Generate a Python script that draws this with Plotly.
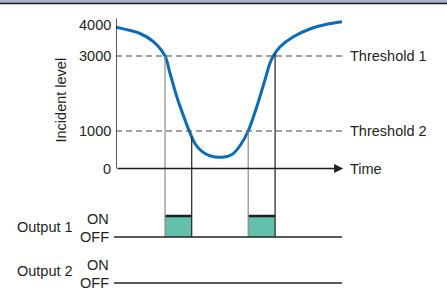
import numpy as np
import plotly.graph_objects as go

# ---- data ----
time = [0.0, 1.06, 1.64, 2.17, 2.39, 2.69, 3.05, 3.24, 3.50, 3.80, 4.15, 4.68, 5.15,
        5.50, 5.85, 6.23, 6.59, 6.81, 6.96, 7.26, 7.85, 8.58, 9.32, 10.0]
level = [3765, 3600, 3390, 3000, 2540, 1915, 1300, 1000, 660, 455, 340, 299, 380,
         620, 1000, 1648, 2360, 2805, 3000, 3248, 3515, 3720, 3845, 3915]
tick_vals = [0, 1000, 3000, 4000]
tick_text = ["0", "1000", "3000", "4000"]
thresholds = [3000, 1000]
threshold_labels = ["Threshold 1", "Threshold 2"]
switch_times = [2.17, 3.35, 5.85, 7.04]      # output 1 turns ON at 1st, OFF at 2nd, etc.
output1_on = [(2.17, 3.35), (5.85, 7.04)]
output2_on = []

# ---- layout constants ----
W, H = 447, 291
ML = 116
T_END = 10.0
PX_PER_T = 22.6
PX_PER_V = 37.5 / 1000
Y0PX = 168.5
def v_of(py):
    return (Y0PX - py) / PX_PER_V
x_range = [0, (W - ML) / PX_PER_T]
y_range = [v_of(H), v_of(0)]
out1_off, out1_on_v = v_of(237), v_of(216)
out2_off, out2_on_v = v_of(283), v_of(262)
def xp(px):
    return (px - ML) / (W - ML)

FONT = "Liberation Sans, Arial, sans-serif"
TXT = "#231f20"
fs = 14.5

fig = go.Figure()
shapes = []
ann = []

# header band
shapes.append(dict(type="rect", xref="paper", yref="paper", x0=xp(0), x1=1,
                   y0=1 - 3 / H, y1=1, fillcolor="#a9b4c8", line_width=0, layer="above"))
shapes.append(dict(type="line", xref="paper", yref="paper", x0=xp(0), x1=1,
                   y0=1 - 3.5 / H, y1=1 - 3.5 / H, line=dict(color="#1a1a1a", width=1.3)))

# teal bars
for a, b in output1_on:
    shapes.append(dict(type="rect", xref="x", yref="y", x0=a, x1=b, y0=out1_off, y1=out1_on_v,
                       fillcolor="#63c1ab", line_width=0, layer="below"))
    shapes.append(dict(type="line", xref="x", yref="y", x0=a, x1=b, y0=out1_on_v, y1=out1_on_v,
                       line=dict(color="#231f20", width=2.5)))
for a, b in output2_on:
    shapes.append(dict(type="rect", xref="x", yref="y", x0=a, x1=b, y0=out2_off, y1=out2_on_v,
                       fillcolor="#63c1ab", line_width=0, layer="below"))

# threshold dashed lines
for th, lab in zip(thresholds, threshold_labels):
    shapes.append(dict(type="line", xref="x", yref="y", x0=0, x1=T_END, y0=th, y1=th,
                       line=dict(color="#444444", width=1.2, dash="6px,4px")))
    ann.append(dict(x=T_END + 6 / PX_PER_T, y=th, xref="x", yref="y", text=lab, showarrow=False,
                    xanchor="left", yanchor="middle", font=dict(family=FONT, size=fs, color=TXT)))

# vertical switching markers
colors = ["#8a8a8a", "#231f20", "#8a8a8a", "#231f20"]
for t, c in zip(switch_times, colors):
    top = float(np.interp(t, time, level))
    shapes.append(dict(type="line", xref="x", yref="y", x0=t, x1=t, y0=top, y1=out1_off,
                       line=dict(color=c, width=1.2)))

# output baselines
for off in (out1_off, out2_off):
    shapes.append(dict(type="line", xref="paper", yref="y", x0=xp(114), x1=xp(342), y0=off, y1=off,
                       line=dict(color="#231f20", width=1.5)))

# axes
shapes.append(dict(type="line", xref="x", yref="y", x0=0, x1=0, y0=0, y1=4000,
                   line=dict(color="#231f20", width=1.5)))
ann.append(dict(x=T_END + 0.05, y=0, ax=0, ay=0, xref="x", yref="y", axref="x", ayref="y",
                text="", showarrow=True, arrowhead=2, arrowsize=1.2, arrowwidth=1.5,
                arrowcolor="#231f20", standoff=0))
ann.append(dict(x=T_END + 6 / PX_PER_T, y=0, xref="x", yref="y", text="Time", showarrow=False,
                xanchor="left", yanchor="middle", font=dict(family=FONT, size=fs, color=TXT)))

# y tick labels
for tv, tt in zip(tick_vals, tick_text):
    ann.append(dict(x=xp(113), y=tv, xref="paper", yref="y", text=tt, showarrow=False,
                    xanchor="right", yanchor="middle", yshift=(-6 if tv == 4000 else 0),
                    font=dict(family=FONT, size=fs, color=TXT)))

# curve
fig.add_trace(go.Scatter(x=time, y=level, mode="lines",
                         line=dict(color="#0a6cb9", width=3, shape="spline", smoothing=0.8),
                         hoverinfo="skip", showlegend=False, cliponaxis=False))

# labels
ann.append(dict(x=xp(60), y=v_of(100.5), xref="paper", yref="y", text="Incident level",
                textangle=-90, showarrow=False, xanchor="center", yanchor="middle",
                font=dict(family=FONT, size=fs, color=TXT)))
for name, yc, on_v, off_v in (("Output 1", v_of(227), out1_on_v, out1_off),
                              ("Output 2", v_of(271), out2_on_v, out2_off)):
    ann.append(dict(x=xp(45), y=yc, xref="paper", yref="y", text=name, showarrow=False,
                    xanchor="center", yanchor="middle", font=dict(family=FONT, size=fs, color=TXT)))
    ann.append(dict(x=xp(111), y=on_v - 3 / PX_PER_V, xref="paper", yref="y", text="ON",
                    showarrow=False, xanchor="right", yanchor="middle",
                    font=dict(family=FONT, size=fs, color=TXT)))
    ann.append(dict(x=xp(111), y=off_v, xref="paper", yref="y", text="OFF",
                    showarrow=False, xanchor="right", yanchor="middle",
                    font=dict(family=FONT, size=fs, color=TXT)))

fig.update_layout(
    width=W, height=H, autosize=False,
    margin=dict(l=ML, r=0, t=0, b=0, pad=0),
    paper_bgcolor="white", plot_bgcolor="white",
    shapes=shapes, annotations=ann,
    xaxis=dict(range=x_range, visible=False, fixedrange=True, automargin=False),
    yaxis=dict(range=y_range, visible=False, showgrid=False, zeroline=False,
               fixedrange=True, automargin=False),
)
fig.write_html("out.html", config={"displayModeBar": False},
               post_script="document.body.style.margin='0';document.body.style.padding='0';")
